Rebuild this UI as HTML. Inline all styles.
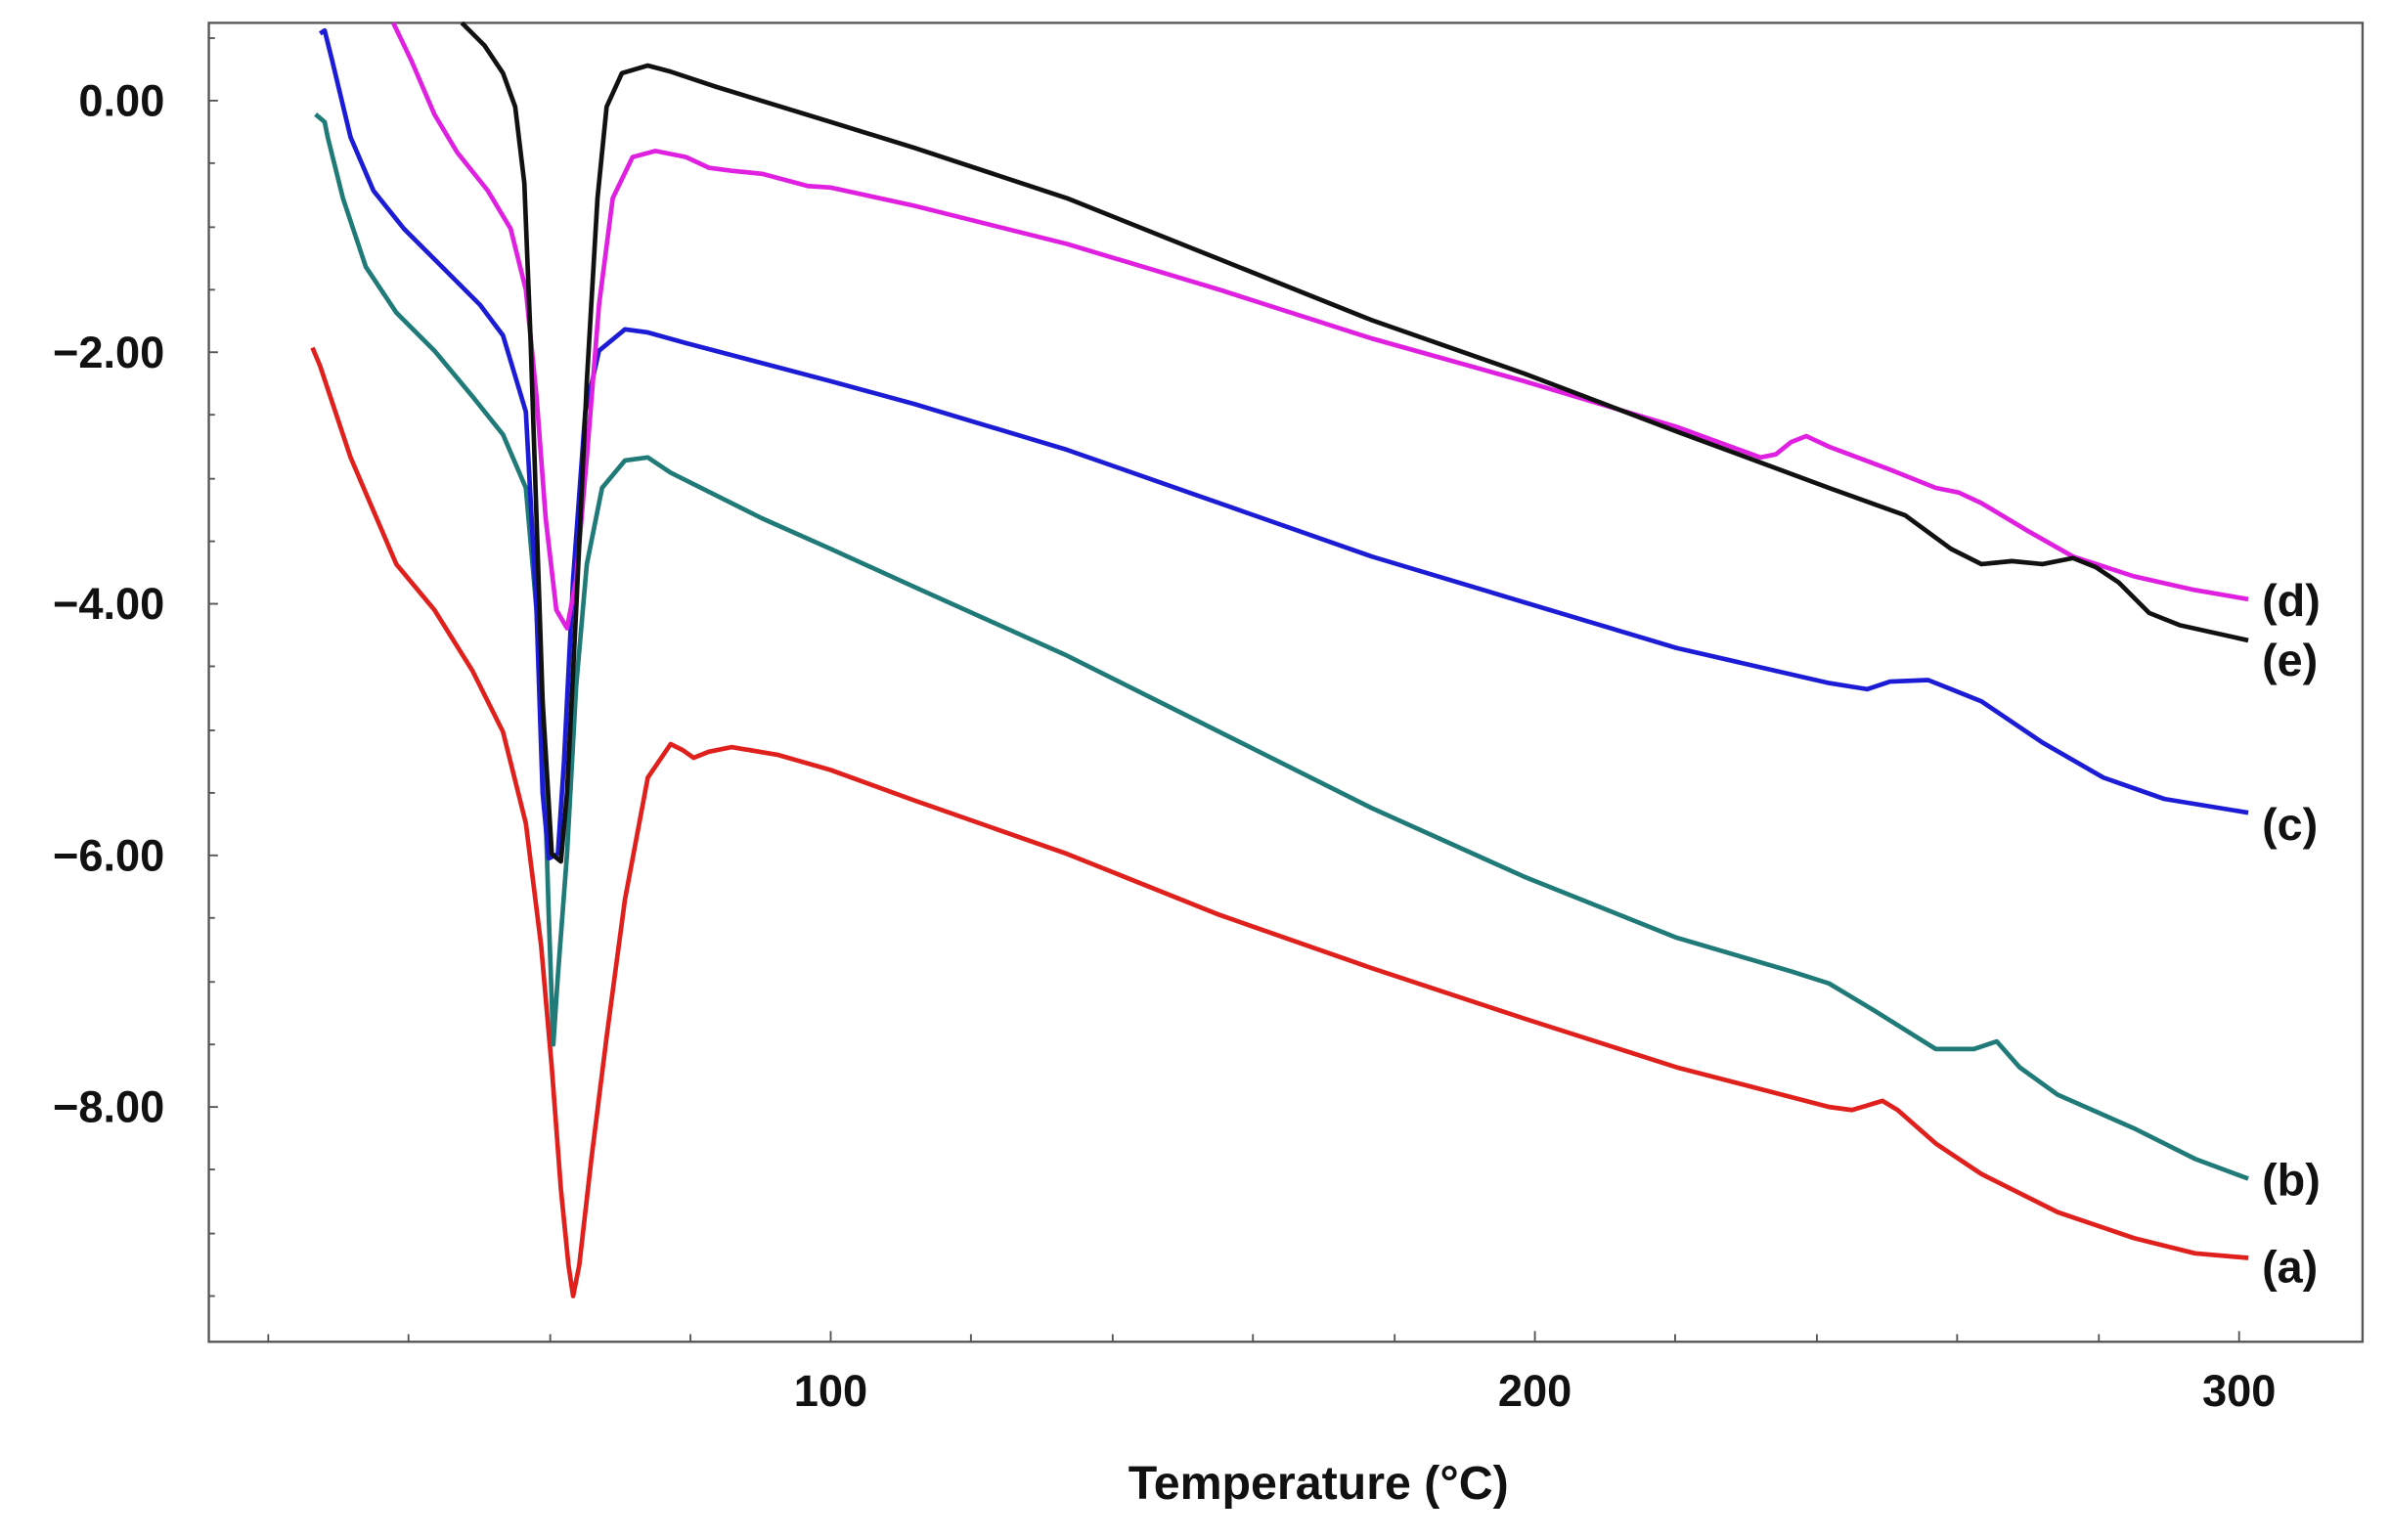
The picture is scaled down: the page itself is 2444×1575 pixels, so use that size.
<!DOCTYPE html>
<html><head><meta charset="utf-8"><style>
html,body{margin:0;padding:0;background:#fff;width:2444px;height:1575px;overflow:hidden}
svg{display:block}
text{font-family:"Liberation Sans",sans-serif;font-weight:bold;fill:#111}
</style></head><body>
<svg width="2444" height="1575" viewBox="0 0 1568 1010" preserveAspectRatio="none" xmlns="http://www.w3.org/2000/svg">
<rect x="0" y="0" width="1568" height="1010" fill="#fff"/>
<rect x="137" y="15" width="1413" height="865" fill="none" stroke="#555" stroke-width="1.5"/>
<g stroke="#555" stroke-width="1.2">
<line x1="137" y1="66" x2="143" y2="66"/><line x1="137" y1="107" x2="141" y2="107"/><line x1="137" y1="149" x2="141" y2="149"/><line x1="137" y1="190" x2="141" y2="190"/>
<line x1="137" y1="231" x2="143" y2="231"/><line x1="137" y1="272" x2="141" y2="272"/><line x1="137" y1="314" x2="141" y2="314"/><line x1="137" y1="355" x2="141" y2="355"/>
<line x1="137" y1="396" x2="143" y2="396"/><line x1="137" y1="437" x2="141" y2="437"/><line x1="137" y1="479" x2="141" y2="479"/><line x1="137" y1="520" x2="141" y2="520"/>
<line x1="137" y1="561" x2="143" y2="561"/><line x1="137" y1="602" x2="141" y2="602"/><line x1="137" y1="644" x2="141" y2="644"/><line x1="137" y1="685" x2="141" y2="685"/>
<line x1="137" y1="726" x2="143" y2="726"/><line x1="137" y1="767" x2="141" y2="767"/><line x1="137" y1="809" x2="141" y2="809"/><line x1="137" y1="850" x2="141" y2="850"/>
<line x1="137" y1="25" x2="141" y2="25"/>
<line x1="176" y1="880" x2="176" y2="875"/><line x1="268" y1="880" x2="268" y2="875"/><line x1="361" y1="880" x2="361" y2="875"/><line x1="453" y1="880" x2="453" y2="875"/>
<line x1="545" y1="880" x2="545" y2="873"/><line x1="637" y1="880" x2="637" y2="875"/><line x1="730" y1="880" x2="730" y2="875"/><line x1="822" y1="880" x2="822" y2="875"/><line x1="915" y1="880" x2="915" y2="875"/>
<line x1="1007" y1="880" x2="1007" y2="873"/><line x1="1099" y1="880" x2="1099" y2="875"/><line x1="1192" y1="880" x2="1192" y2="875"/><line x1="1284" y1="880" x2="1284" y2="875"/><line x1="1377" y1="880" x2="1377" y2="875"/>
<line x1="1469" y1="880" x2="1469" y2="873"/>
</g>
<g font-size="29" text-anchor="end">
<text x="108" y="76">0.00</text><text x="108" y="241">−2.00</text><text x="108" y="406">−4.00</text><text x="108" y="571">−6.00</text><text x="108" y="736">−8.00</text>
</g>
<g font-size="29" text-anchor="middle">
<text x="545" y="922">100</text><text x="1007" y="922">200</text><text x="1469" y="922">300</text>
<text x="865" y="983" font-size="31">Temperature (°C)</text>
</g>
<g fill="none" stroke-width="3" stroke-linejoin="round">
<polyline stroke="#e0201c" points="205,228 210,240 230,300 260,370 285,400 310,440 330,480 345,540 355,620 362,700 368,780 373,830 376,850 380,830 388,760 398,680 410,590 425,510 440,488 448,492 455,497 465,493 480,490 510,495 545,505 600,525 700,560 800,600 900,635 1000,668 1100,700 1200,726 1215,728 1235,722 1245,728 1270,750 1300,770 1350,795 1400,812 1440,822 1475,825"/>
<polyline stroke="#1f7a78" points="207,75 213,80 215,90 225,130 240,175 260,205 285,230 310,260 330,285 345,320 352,400 357,500 360,600 363,685 366,640 372,560 378,450 385,370 395,320 410,302 425,300 440,310 500,340 545,360 600,385 700,430 800,480 900,530 1000,575 1100,615 1175,637 1200,645 1230,663 1270,688 1295,688 1310,683 1325,700 1350,718 1400,740 1440,760 1475,773"/>
<polyline stroke="#1c1cd6" points="210,22 213,20 218,40 230,90 245,125 265,150 290,175 315,200 330,220 345,270 352,400 356,520 360,563 366,560 370,500 376,380 384,270 393,230 410,216 425,218 450,225 545,250 600,265 700,295 800,330 900,365 1000,395 1100,425 1200,448 1225,452 1240,447 1265,446 1280,452 1300,460 1340,487 1380,510 1420,524 1475,533"/>
<polyline stroke="#e020e0" points="258,15 270,40 285,75 300,100 320,125 335,150 345,190 352,260 358,340 365,400 372,412 378,380 385,300 393,200 402,130 415,103 430,99 450,103 465,110 480,112 500,114 530,122 545,123 600,135 700,160 800,190 900,222 1000,250 1100,280 1155,300 1165,298 1175,290 1185,286 1200,293 1240,308 1270,320 1285,323 1300,330 1330,348 1360,365 1400,378 1440,387 1475,393"/>
<polyline stroke="#111" points="303,15 318,30 330,48 338,70 344,120 348,220 352,340 356,460 362,560 368,565 372,520 378,400 385,250 392,130 398,70 408,48 425,43 440,47 470,57 545,80 600,97 700,130 800,170 900,210 1000,245 1100,283 1200,320 1250,338 1280,360 1300,370 1320,368 1340,370 1360,366 1375,372 1390,382 1410,402 1430,410 1475,420"/>
</g>
<g font-size="30">
<text x="1484" y="404">(d)</text><text x="1484" y="443">(e)</text><text x="1484" y="551">(c)</text><text x="1484" y="784">(b)</text><text x="1484" y="841">(a)</text>
</g>
</svg>
</body></html>
